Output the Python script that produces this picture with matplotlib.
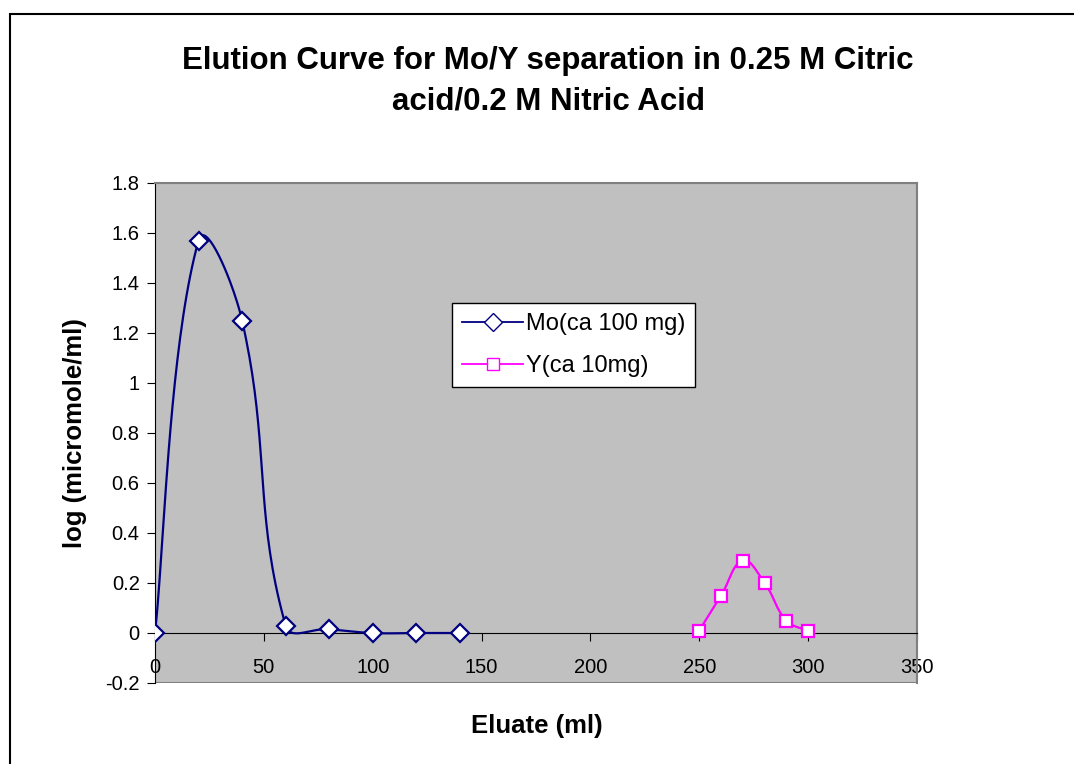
import numpy as np
import matplotlib
matplotlib.use("Agg")
import matplotlib.pyplot as plt
from matplotlib.patches import Rectangle

plt.rcParams['font.family'] = ['Liberation Sans', 'DejaVu Sans']

# data
mo_x = [0, 20, 40, 60, 80, 100, 120, 140]
mo_y = [0, 1.57, 1.25, 0.03, 0.015, 0, 0, 0]
y_x = [250, 260, 270, 280, 290, 300]
y_y = [0.01, 0.15, 0.29, 0.20, 0.05, 0.01]

yticks = [-0.2, 0, 0.2, 0.4, 0.6, 0.8, 1, 1.2, 1.4, 1.6, 1.8]
ytick_labels = ['-0.2', '0', '0.2', '0.4', '0.6', '0.8', '1', '1.2', '1.4', '1.6', '1.8']
xticks = [0, 50, 100, 150, 200, 250, 300, 350]

# axes size in pixels, used to smooth in screen space like Excel does
AX_W, AX_H = 762, 500
X_RANGE, Y_RANGE = 350, 2.0


def smooth(xs, ys, n=40, k=0.42):
    kx, ky = AX_W / X_RANGE, AX_H / Y_RANGE
    p = np.column_stack([np.array(xs) * kx, np.array(ys) * ky]).astype(float)
    out = []
    for i in range(len(p) - 1):
        p1, p2 = p[i], p[i + 1]
        d12 = np.hypot(*(p2 - p1))
        if i == 0:
            c1 = p1 + (p2 - p1) * k * 0.5
        else:
            p0 = p[i - 1]
            d01 = np.hypot(*(p1 - p0))
            c1 = p1 + (p2 - p0) * k * d12 / max(d01 + d12, 1e-9)
        if i == len(p) - 2:
            c2 = p2 - (p2 - p1) * k * 0.5
        else:
            p3 = p[i + 2]
            d23 = np.hypot(*(p3 - p2))
            c2 = p2 - (p3 - p1) * k * d12 / max(d12 + d23, 1e-9)
        t = np.linspace(0, 1, n)[:, None]
        seg = ((1 - t) ** 3) * p1 + 3 * ((1 - t) ** 2) * t * c1 + 3 * (1 - t) * t ** 2 * c2 + t ** 3 * p2
        out.append(seg)
    s = np.vstack(out)
    return s[:, 0] / kx, s[:, 1] / ky


fig = plt.figure(figsize=(10.74, 7.64), dpi=100)
fig.patches.append(Rectangle((10 / 1074, -0.1), 1.2, (764 - 14) / 764 + 0.1,
                             transform=fig.transFigure, fill=False,
                             edgecolor='black', linewidth=1.5))

ax = fig.add_axes([155 / 1074, 81 / 764, AX_W / 1074, AX_H / 764])
ax.set_facecolor('#C0C0C0')
ax.set_xlim(0, X_RANGE)
ax.set_ylim(-0.2, 1.8)

sx, sy = smooth(mo_x, mo_y)
ax.plot(sx, sy, color='#000080', linewidth=1.6, zorder=3)
ax.plot(mo_x, mo_y, linestyle='none', marker='D', markersize=9,
        markerfacecolor='white', markeredgecolor='#000080', markeredgewidth=1.6, zorder=4)
tx, ty = smooth(y_x, y_y)
ax.plot(tx, ty, color='#FF00FF', linewidth=1.6, zorder=3)
ax.plot(y_x, y_y, linestyle='none', marker='s', markersize=8.5,
        markerfacecolor='white', markeredgecolor='#FF00FF', markeredgewidth=1.6, zorder=4)

# legend proxies
ax.plot([], [], color='#000080', linewidth=1.3, marker='D', markersize=9,
        markerfacecolor='white', markeredgecolor='#000080', label='Mo(ca 100 mg)')
ax.plot([], [], color='#FF00FF', linewidth=1.3, marker='s', markersize=8.5,
        markerfacecolor='white', markeredgecolor='#FF00FF', label='Y(ca 10mg)')
leg = ax.legend(loc='upper left', bbox_to_anchor=(297 / AX_W, 1 - 120 / AX_H), fontsize=17,
                frameon=True, fancybox=False, edgecolor='black', framealpha=1,
                handlelength=2.6, borderpad=0.42, labelspacing=0.85, handletextpad=0.1,
                borderaxespad=0)
leg.get_frame().set_linewidth(1.0)

for side in ['top', 'right']:
    ax.spines[side].set_color('#808080')
    ax.spines[side].set_linewidth(1.5)
ax.spines['left'].set_color('black')
ax.spines['bottom'].set_position(('data', 0))
ax.spines['bottom'].set_color('black')
ax.add_patch(Rectangle((0, -0.2), X_RANGE, 2.0, fill=False, edgecolor='#808080',
                       linewidth=1.5, zorder=0.5))

ax.set_yticks(yticks)
ax.set_yticklabels(ytick_labels)
ax.set_xticks(xticks)
ax.tick_params(axis='y', direction='out', length=6, labelsize=14.5, pad=5)
ax.tick_params(axis='x', direction='out', length=6, labelsize=14.5, pad=12)

fig.text(537 / 1074, 1 - 726 / 764, 'Eluate (ml)', ha='center', va='center',
         fontsize=18.5, fontweight='bold')
fig.text(75 / 1074, 1 - 433 / 764, 'log (micromole/ml)', ha='center', va='center',
         rotation=90, fontsize=18.5, fontweight='bold')

fig.text(548 / 1074, 1 - 81 / 764, 'Elution Curve for Mo/Y separation in 0.25 M Citric\nacid/0.2 M Nitric Acid',
         ha='center', va='center', fontsize=22.5, fontweight='bold', linespacing=1.45)

fig.savefig('out.png', dpi=100)
